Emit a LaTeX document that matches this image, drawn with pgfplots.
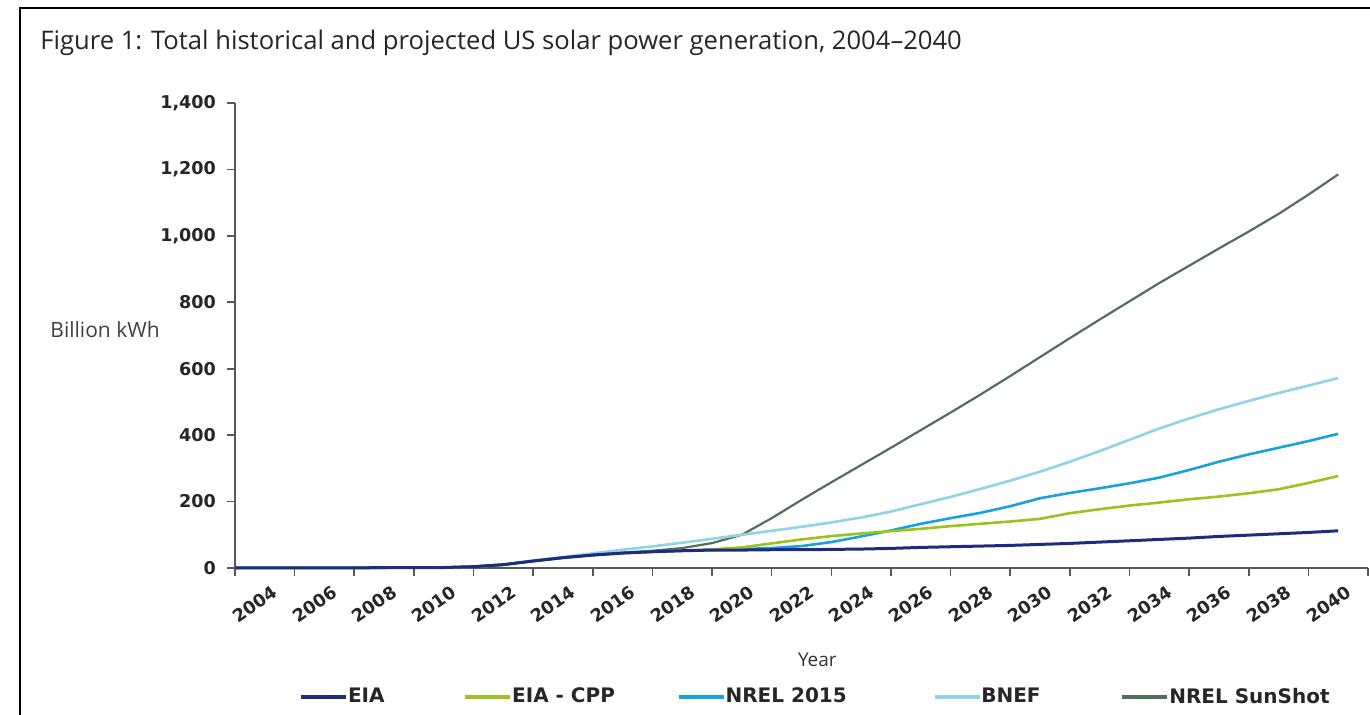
\documentclass[border=0pt]{standalone}
\usepackage{pgfplots}
\usepackage{pgfplotstable}
\pgfplotsset{compat=1.18}
\usepackage{fontspec}
\setmainfont{Open Sans}
\newfontfamily\dv{DejaVu Sans}

\definecolor{ceia}{HTML}{1E2B7E}
\definecolor{ccpp}{HTML}{9AC31C}
\definecolor{cnrel}{HTML}{16A3DC}
\definecolor{cbnef}{HTML}{8ED3E6}
\definecolor{csun}{HTML}{50705A}
\definecolor{caxis}{HTML}{55575F}

\pgfplotstableread{
year EIA CPP NREL BNEF SUN
2003 0.5 0.5 0.5 0.5 0.5
2004 0.6 0.6 0.6 0.6 0.6
2005 0.6 0.6 0.6 0.6 0.6
2006 0.5 0.5 0.5 0.5 0.5
2007 0.6 0.6 0.6 0.6 0.6
2008 0.9 0.9 0.9 0.9 0.9
2009 1.0 1.0 1.0 1.0 1.0
2010 1.5 1.5 1.5 1.5 1.5
2011 4 4 4 4 4
2012 10 10 10 10 10
2013 21 21 21 22 21
2014 31 31 31 33 31
2015 39 39 39 44 39
2016 45 45 45 55 46
2017 49 49 49 65 52
2018 52 52 52 76 60
2019 54 56 54 88 75
2020 54 62 57 100 100
2021 55 74 60 112 150
2022 55 86 66 124 205
2023 56 96 78 137 258
2024 57 104 95 152 310
2025 59 111 113 170 362
2026 62 118 133 192 415
2027 64 126 150 214 468
2028 66 133 166 238 522
2029 68 140 186 263 578
2030 71 148 210 290 635
2031 74 165 226 320 692
2032 78 177 240 352 748
2033 82 188 255 386 803
2034 86 197 272 420 858
2035 90 207 295 450 910
2036 95 215 320 478 962
2037 99 225 342 503 1013
2038 103 237 362 527 1066
2039 107 256 382 549 1124
2040 112 277 404 572 1185
}\solar

\begin{document}
\begin{tikzpicture}
\useasboundingbox (0,0) rectangle (685pt,-357.5pt);
\draw[line width=1.2pt, black] (10pt,-362pt) -- (10pt,-4pt) -- (690pt,-4pt);
\node[anchor=base west, inner sep=0pt, font=\fontsize{12.8}{14}\selectfont, text=black!85] at (20pt,-25pt) {Figure 1: Total historical and projected US solar power generation, 2004–2040};
\begin{axis}[
  at={(117.5pt,-284pt)}, anchor=south west,
  scale only axis, width=566.5pt, height=232.5pt,
  xmin=2003, xmax=2041, ymin=0, ymax=1400,
  clip=false,
  axis x line=bottom, axis y line=left,
  axis line style={-, draw=caxis, line width=0.9pt},
  tick align=outside, major tick length=4pt,
  tick style={draw=caxis, line width=0.8pt},
  ytick={0,200,...,1400},
  /pgf/number format/1000 sep={,},
  /pgf/number format/assume math mode=true,
  yticklabel style={font=\dv\bfseries\fontsize{8.8}{10}\selectfont, text=black!85, xshift=-2pt},
  xtick={2003,2005,...,2041}, xticklabels={},
  extra x ticks={2004,2006,...,2040},
  extra x tick labels={2004,2006,2008,2010,2012,2014,2016,2018,2020,2022,2024,2026,2028,2030,2032,2034,2036,2038,2040},
  extra x tick style={major tick length=0pt},
  xticklabel style={rotate=35, anchor=north east, font=\dv\bfseries\fontsize{8.8}{10}\selectfont, text=black!85, yshift=-5pt, xshift=1.5pt},
  xlabel={Year},
  xlabel style={at={(axis description cs:0.514,0)}, anchor=center, yshift=-46pt, font=\fontsize{9.5}{11}\selectfont, text=black!80},
  ylabel={Billion kWh},
  ylabel style={rotate=-90, at={(axis description cs:-0.1147,0.512)}, anchor=center, font=\fontsize{10.5}{12}\selectfont, text=black!75},
  legend columns=5, reverse legend,
  legend style={at={(axis description cs:0,0)}, anchor=west, xshift=32pt, yshift=-64.5pt,
    draw=none, fill=none, inner sep=0pt,
    font=\dv\bfseries\fontsize{10}{12}\selectfont, text=black!85,
    nodes={inner sep=0pt},
    /tikz/column 2/.style={column sep=39.5pt},
    /tikz/column 4/.style={column sep=31pt},
    /tikz/column 6/.style={column sep=43pt},
    /tikz/column 8/.style={column sep=40pt}},
  legend image code/.code={\draw[#1, line width=1.8pt] (0pt,0pt) -- (22.5pt,0pt);},
]
\addplot[csun, line width=1.1pt] table[x=year, y=SUN] {\solar};
\addlegendentry{NREL SunShot}
\addplot[cbnef, line width=1.3pt] table[x=year, y=BNEF] {\solar};
\addlegendentry{BNEF}
\addplot[cnrel, line width=1.3pt] table[x=year, y=NREL] {\solar};
\addlegendentry{NREL 2015}
\addplot[ccpp, line width=1.3pt] table[x=year, y=CPP] {\solar};
\addlegendentry{EIA - CPP}
\addplot[ceia, line width=1.5pt] table[x=year, y=EIA] {\solar};
\addlegendentry{EIA}
\end{axis}
\end{tikzpicture}
\end{document}
